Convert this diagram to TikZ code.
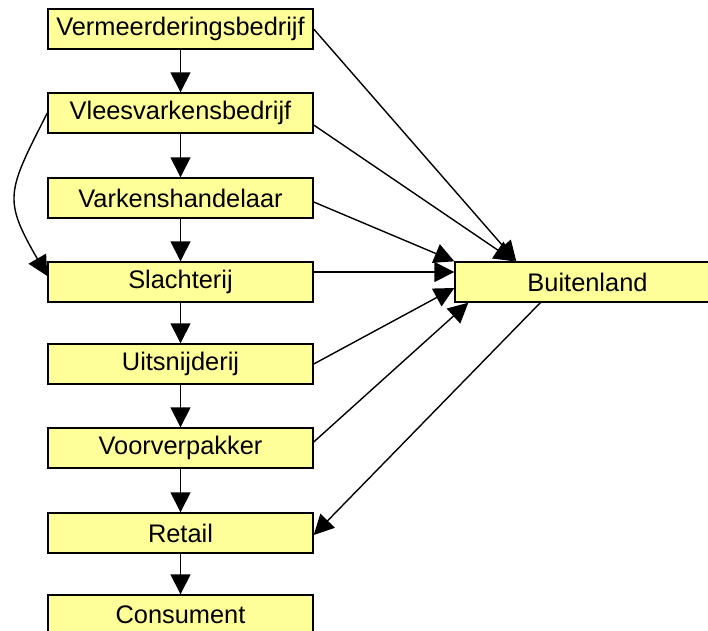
\documentclass[tikz,border=0pt]{standalone}
\usepackage{fontspec}
\setmainfont{Liberation Sans}
\usetikzlibrary{arrows.meta}
\definecolor{boxyellow}{RGB}{255,255,153}

\begin{document}
\begin{tikzpicture}[x=1pt,y=-1pt,line width=1.4pt,
  schakel/.style={draw=black,fill=boxyellow,minimum width=265pt,minimum height=40pt,
    inner sep=0pt,font=\fontsize{25.4}{30}\selectfont},
  stroom/.style={-{Triangle[length=20pt,width=20pt]}}]
  \clip (0,0) rectangle (708,630);
  % keten
  \node[schakel] (verm) at (180.5,29) {Vermeerderingsbedrijf};
  \node[schakel] (vlees) at (180.5,113) {Vleesvarkensbedrijf};
  \node[schakel] (handel) at (180.5,198) {Varkenshandelaar};
  \node[schakel] (slacht) at (180.5,282) {Slachterij};
  \node[schakel] (snij) at (180.5,364) {Uitsnijderij};
  \node[schakel] (pak) at (180.5,448) {Voorverpakker};
  \node[schakel] (retail) at (180.5,533) {Retail};
  \node[schakel] (consu) at (180.5,615) {Consument};
  \node[schakel] (buiten) at (587.5,282) {Buitenland};
  \foreach \a/\b in {verm/vlees,vlees/handel,handel/slacht,slacht/snij,snij/pak,pak/retail,retail/consu}
    \draw[stroom] (\a) -- (\b);
  % export en import
  \draw[stroom] (verm.east) -- ([xshift=62pt]buiten.north west);
  \draw[stroom] ([yshift=-12pt]vlees.east) -- ([xshift=60pt]buiten.north west);
  \draw[stroom] ([yshift=-4pt]handel.east) -- (buiten.north west);
  \draw[stroom] ([yshift=10pt]slacht.east) -- ([yshift=10pt]buiten.west);
  \draw[stroom] (snij.east) -- ([yshift=-6pt]buiten.west);
  \draw[stroom] ([yshift=6pt]pak.east) -- ([xshift=14pt]buiten.south west);
  \draw[stroom] ([xshift=86pt]buiten.south west) -- ([yshift=-2pt]retail.east);
  \draw[stroom] (vlees.west) to[out=243,in=120,looseness=1.4] ([yshift=6pt]slacht.west);
\end{tikzpicture}
\end{document}
